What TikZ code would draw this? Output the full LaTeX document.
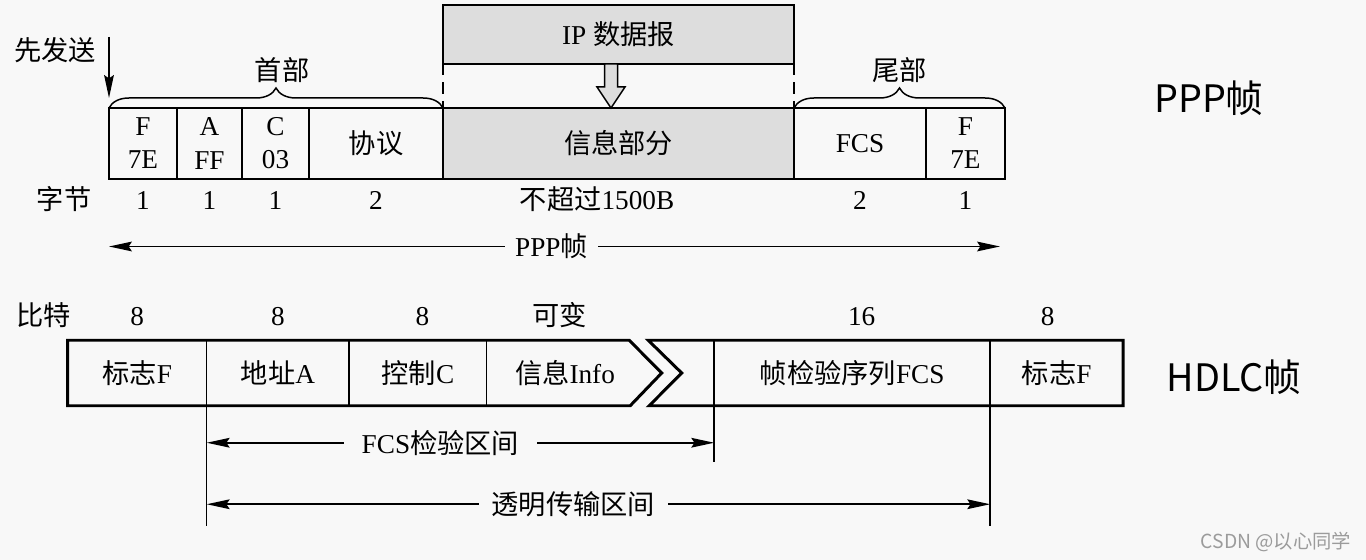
\documentclass[tikz,border=0pt]{standalone}
\usepackage{fontspec}
\setmainfont{Liberation Serif}
\newfontfamily\cjk{Noto Sans CJK SC}
\usetikzlibrary{
  arrows.meta,
  calc,
  decorations.pathreplacing,
  positioning,
}
\definecolor{cBack}{RGB}{248,248,248}
\definecolor{cInfo}{RGB}{221,221,221}
\definecolor{cMark}{RGB}{155,155,155}
\newcommand\fz{\fontsize{15.5pt}{18.8pt}\selectfont}
\tikzset{
  % Frame field
  field/.style={
    rectangle, draw, line width=0.85pt,
    outer sep=0pt, inner sep=0pt,
    align=center, font=\fz,
  },
  pppfield/.style={field, minimum height=1.42cm},
  hdlcfield/.style={field, minimum height=1.31cm},
  % Thick HDLC outline
  outline/.style={line width=1.7pt, line join=miter},
  % Arrow
  arr/.style={-{Stealth[length=13pt, width=5.5pt, inset=1.8pt]}, line width=1.05pt},
  dashline/.style={dash pattern=on 6.5pt off 4pt, line width=0.85pt},
  % Brace over a group of fields
  partbrace/.style={decorate, decoration={brace, amplitude=0.4cm}, line width=0.85pt},
  bracelab/.style={font=\fz, midway},
  % Byte / bit counts
  numlab/.style={font=\fz, anchor=base, inner sep=0pt},
  % Range label cut into an arrow
  rangelab/.style={font=\fz, inner ysep=2pt},
  % Frame name on the right
  title/.style={font=\fontsize{21.5pt}{24pt}\selectfont\cjk},
}
\begin{document}
\begin{tikzpicture}

\path[fill=cBack] (0,0) rectangle (27.32,11.2);
\useasboundingbox (0,0) rectangle (27.32,11.2);

% ── PPP frame ────────────────────────────────────────────────────────────────
\node[pppfield, minimum width=1.36cm, anchor=west] (pF) at (2.18,8.33) {F\\7E};
\node[pppfield, minimum width=1.30cm, right=0pt of pF] (pA) {A\\FF};
\node[pppfield, minimum width=1.34cm, right=0pt of pA] (pC) {C\\03};
\node[pppfield, minimum width=2.68cm, right=0pt of pC] (pP) {{\cjk 协议}};
\node[pppfield, minimum width=7.02cm, right=0pt of pP, fill=cInfo] (pI) {{\cjk 信息部分}};
\node[pppfield, minimum width=2.64cm, right=0pt of pI] (pS) {FCS};
\node[pppfield, minimum width=1.58cm, right=0pt of pS] (pF2) {F\\7E};

% IP datagram above the information field
\node[field, fill=cInfo, minimum width=7.02cm, minimum height=1.18cm,
  above=0.88cm of pI] (ip) {IP {\cjk 数据报}};
\draw[dashline] (ip.south west) -- (pI.north west);
\draw[dashline] (ip.south east) -- (pI.north east);

\coordinate (tip) at ($(pI.north)+(-0.15,0)$);
\draw[line width=0.85pt, fill=cInfo]
  (tip) -- ++(0.28,0.42) -- ++(-0.15,0) -- ++(0,0.46)
  -- ++(-0.26,0) -- ++(0,-0.46) -- ++(-0.15,0) -- cycle;

% Header and trailer braces
\draw[partbrace] (pF.north west) -- (pP.north east)
  node[bracelab, yshift=0.76cm, xshift=0.12cm] (head) {{\cjk 首部}};
\draw[partbrace] (pS.north west) -- (pF2.north east)
  node[bracelab, yshift=0.76cm] (tail) {{\cjk 尾部}};

% Sent first
\node[font=\fz] (send) at (1.1,10.2) {{\cjk 先发送}};
\coordinate (sendA) at ($(pF.north west)+(0,1.42)$);
\coordinate (sendB) at ($(pF.north west)+(0,0.2)$);
\draw[arr] (sendA) -- (sendB);

% Byte counts
\node[numlab] (bytes) at ($(pF.south west)+(-0.9,-0.62)$) {{\cjk 字节}};
\node[numlab] (nF) at ($(pF.south)+(0,-0.62)$) {1};
\node[numlab] (nA) at ($(pA.south)+(0,-0.62)$) {1};
\node[numlab] (nC) at ($(pC.south)+(0,-0.62)$) {1};
\node[numlab] (nP) at ($(pP.south)+(0,-0.62)$) {2};
\node[numlab] (nI) at ($(pI.south)+(-0.43,-0.62)$) {{\cjk 不超过}1500B};
\node[numlab] (nS) at ($(pS.south)+(0,-0.62)$) {2};
\node[numlab] (nF2) at ($(pF2.south)+(0,-0.62)$) {1};

% Whole PPP frame length
\node[rangelab, inner xsep=0.2cm] (pppLen) at (11.03,6.27) {PPP{\cjk 帧}};
\coordinate (lenL) at (pF.south west |- pppLen);
\coordinate (lenR) at ($(pF2.south east |- pppLen)+(-0.1,0)$);
\draw[arr] (pppLen.west) -- (lenL);
\draw[arr] (pppLen.east) -- (lenR);

\node[title] (pppTitle) at (24.18,9.24) {PPP帧};

% ── HDLC frame ───────────────────────────────────────────────────────────────
\node[hdlcfield, minimum width=2.78cm, anchor=west] (hF) at (1.354,3.74) {{\cjk 标志}F};
\node[hdlcfield, minimum width=2.85cm, right=0pt of hF] (hA) {{\cjk 地址}A};
\node[hdlcfield, minimum width=2.75cm, right=0pt of hA] (hC) {{\cjk 控制}C};
\node[hdlcfield, draw=none, minimum width=3.13cm, right=0pt of hC] (hI) {{\cjk 信息}Info};
\node[hdlcfield, minimum width=5.52cm, right=1.42cm of hI] (hS) {{\cjk 帧检验序列}FCS};
\node[hdlcfield, minimum width=2.66cm, right=0pt of hS] (hF2) {{\cjk 标志}F};

% Cut in the variable information field
\coordinate (cut1t) at ($(hS.north west)+(-1.70,0)$);
\coordinate (cut1m) at ($(hS.west)+(-1.05,0)$);
\coordinate (cut1b) at ($(hS.south west)+(-1.68,0)$);
\coordinate (cut2t) at ($(hS.north west)+(-1.32,0)$);
\coordinate (cut2m) at ($(hS.west)+(-0.65,0)$);
\coordinate (cut2b) at ($(hS.south west)+(-1.30,0)$);

\draw[outline] (hF.south west) -- (hF.north west) -- (cut1t) -- (cut1m) -- (cut1b) -- cycle;
\draw[outline] (cut2t) -- (hF2.north east) -- (hF2.south east) -- (cut2b) -- (cut2m) -- cycle;

% Bit counts
\node[numlab] (bits) at ($(hF.north west)+(-0.48,0.29)$) {{\cjk 比特}};
\node[numlab] (bF) at ($(hF.north)+(0,0.29)$) {8};
\node[numlab] (bA) at ($(hA.north)+(0,0.29)$) {8};
\node[numlab] (bC) at ($(hC.north)+(0.09,0.29)$) {8};
\node[numlab] (bI) at ($(hI.north)+(-0.1,0.29)$) {{\cjk 可变}};
\node[numlab] (bS) at ($(hS.north)+(0.19,0.29)$) {16};
\node[numlab] (bF2) at ($(hF2.north)+(-0.18,0.29)$) {8};

% Range limits
\coordinate (vA) at ($(hA.south west)+(0,-2.4)$);
\coordinate (vS) at ($(hS.south west)+(0,-1.12)$);
\coordinate (vF) at ($(hF2.south west)+(0,-2.4)$);
\draw[line width=0.9pt] (hA.south west) -- (vA);
\draw[line width=0.9pt] (hS.south west) -- (vS);
\draw[line width=0.9pt] (hF2.south west) -- (vF);

% FCS check range
\node[rangelab, inner xsep=0.35cm] (fcsRange)
  at ($(hA.south west)!0.5!(hS.south west)+(-0.4,-0.74)$) {FCS{\cjk 检验区间}};
\draw[arr] (fcsRange.west) -- (fcsRange.west -| hA.south west);
\draw[arr] (fcsRange.east) -- (fcsRange.east -| hS.south west);

% Transparent transfer range
\node[rangelab, inner xsep=0.25cm] (tRange)
  at ($(hA.south west)!0.5!(hF2.south west)+(-0.5,-1.97)$) {{\cjk 透明传输区间}};
\draw[arr] (tRange.west) -- (tRange.west -| hA.south west);
\draw[arr] (tRange.east) -- (tRange.east -| hF2.south west);

\node[title] (hdlcTitle) at (24.68,3.66) {HDLC帧};

\node[font=\fontsize{11pt}{13pt}\selectfont\cjk, text=cMark] (mark) at (25.52,0.37) {CSDN @以心同学};

\end{tikzpicture}
\end{document}
